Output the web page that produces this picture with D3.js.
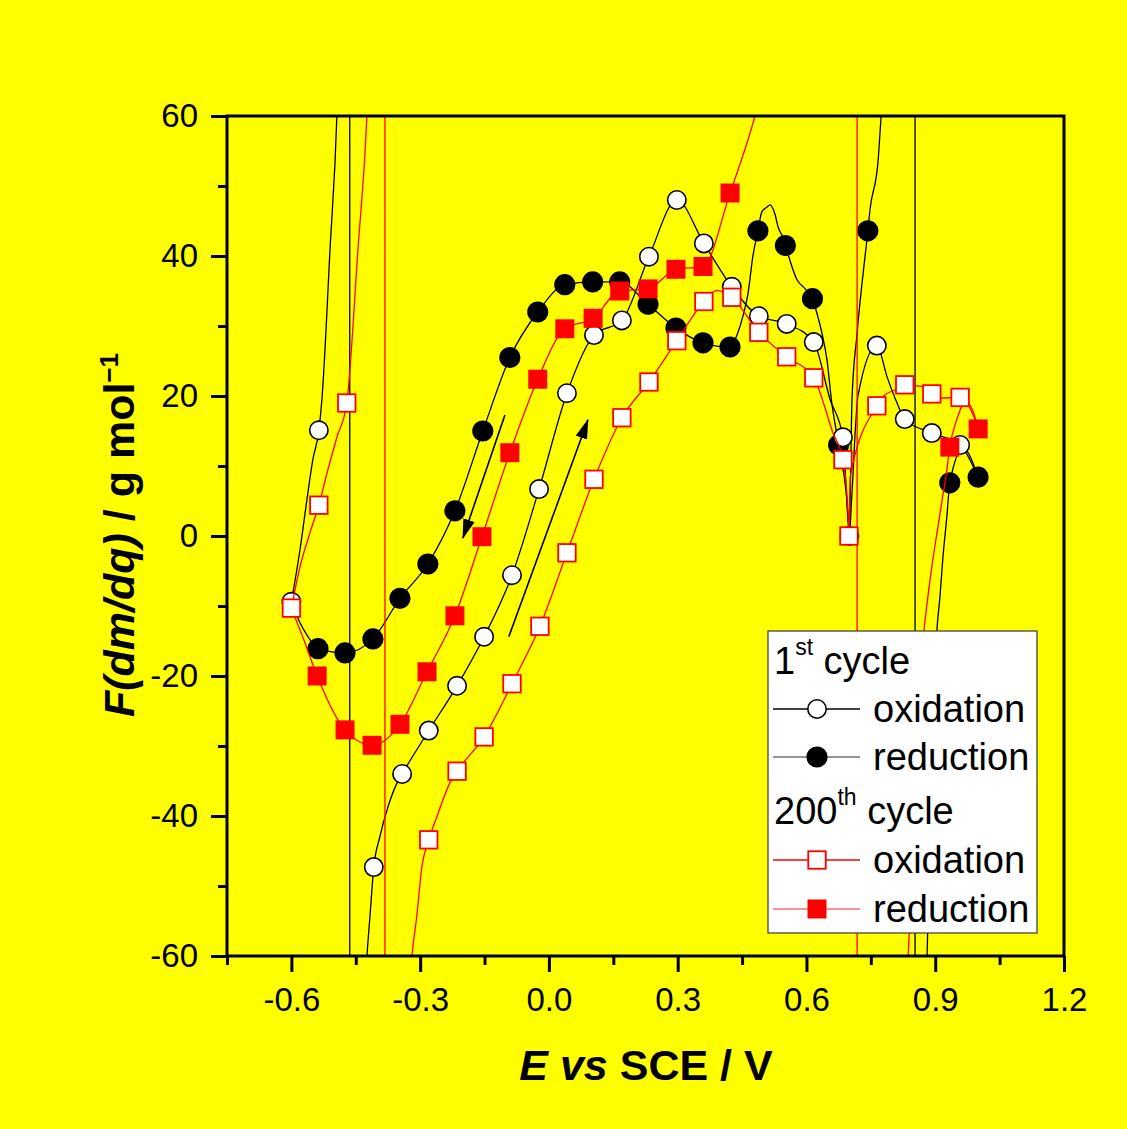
<!DOCTYPE html>
<html><head><meta charset="utf-8">
<script src="https://cdn.jsdelivr.net/npm/d3@7"></script>
<style>
html,body{margin:0;padding:0;background:#ffff00;}
svg{display:block;font-family:"Liberation Sans",Arial,Helvetica,sans-serif;}
</style></head><body>
<svg id="chart" width="1127" height="1129"></svg>
<script>
// ---- axis ticks ----
const xMajorTicks = [-0.6, -0.3, 0.0, 0.3, 0.6, 0.9, 1.2];
const xMinorTicks = [-0.75, -0.45, -0.15, 0.15, 0.45, 0.75, 1.05];
const yMajorTicks = [-60, -40, -20, 0, 20, 40, 60];
const yMinorTicks = [-50, -30, -10, 10, 30, 50];

// ---- 1st cycle, oxidation (E, F) : curve and symbols ----
const ox1Curve = [
  [-0.600,-9.4],[-0.580,-2.0],[-0.564,5.1],[-0.550,10.9],[-0.536,15.1],[-0.529,19.4],
  [-0.510,40.9],[-0.494,60],[-0.480,95],[-0.464,400],[-0.464,-400],[-0.440,-80],
  [-0.424,-60],[-0.417,-54.4],[-0.408,-47.3],[-0.394,-43.0],[-0.375,-38.7],[-0.354,-35.3],
  [-0.342,-34.0],[-0.280,-27.8],[-0.214,-21.4],[-0.151,-14.4],[-0.086,-5.6],[-0.023,6.7],
  [0.042,20.4],[0.105,28.7],[0.170,30.8],[0.233,39.9],[0.298,48.0],[0.361,41.8],
  [0.426,35.6],[0.489,31.4],[0.554,30.3],[0.617,27.7],[0.655,19.5],[0.685,14.1],
  [0.695,4.0],[0.700,0.0],[0.705,5.0],[0.720,20.0],[0.764,27.2],[0.788,22.7],
  [0.811,19.0],[0.829,16.7],[0.892,14.7],[0.958,13.0],[1.000,8.4]
];
const ox1Marks = [
  [-0.600,-9.4],[-0.536,15.1],[-0.408,-47.3],[-0.342,-34.0],[-0.280,-27.8],[-0.214,-21.4],
  [-0.151,-14.4],[-0.086,-5.6],[-0.023,6.7],[0.042,20.4],[0.105,28.7],[0.170,30.8],
  [0.233,39.9],[0.298,48.0],[0.361,41.8],[0.426,35.6],[0.489,31.4],[0.554,30.3],
  [0.617,27.7],[0.685,14.1],[0.700,0.0],[0.764,27.2],[0.829,16.7],[0.892,14.7],[0.958,13.0]
];

// ---- 1st cycle, reduction ----
const red1Curve = [
  [1.000,8.4],[0.965,12.5],[0.934,7.6],[0.927,2.7],[0.918,-3.0],[0.911,-8.7],[0.904,-13.4],
  [0.881,-60],[0.870,-90],[0.853,-400],[0.853,400],[0.830,120],[0.800,76],[0.774,60],
  [0.767,53.7],[0.748,46.6],[0.743,43.6],[0.718,29.0],[0.706,19.4],[0.700,1.0],[0.693,6.0],
  [0.675,13.0],[0.658,19.5],[0.648,25.1],[0.636,29.0],[0.624,31.9],[0.614,33.9],[0.597,35.3],
  [0.578,36.6],[0.551,41.5],[0.545,42.7],[0.534,44.1],[0.527,45.9],[0.520,47.0],[0.515,47.3],
  [0.508,47.0],[0.496,46.3],[0.487,43.6],[0.475,39.9],[0.464,34.7],[0.452,31.4],[0.440,29.0],
  [0.422,27.0],[0.359,27.6],[0.296,29.7],[0.231,33.1],[0.165,36.3],[0.102,36.3],[0.037,35.9],
  [-0.026,32.0],[-0.091,25.5],[-0.154,15.0],[-0.219,3.6],[-0.282,-4.0],[-0.347,-8.9],
  [-0.410,-14.7],[-0.475,-16.7],[-0.538,-16.1],[-0.561,-14.4],[-0.580,-12.4],[-0.600,-9.4]
];
const red1Marks = [
  [1.000,8.4],[0.934,7.6],[0.743,43.6],[0.675,13.0],[0.614,33.9],[0.551,41.5],[0.487,43.6],
  [0.422,27.0],[0.359,27.6],[0.296,29.7],[0.231,33.1],[0.165,36.3],[0.102,36.3],[0.037,35.9],
  [-0.026,32.0],[-0.091,25.5],[-0.154,15.0],[-0.219,3.6],[-0.282,-4.0],[-0.347,-8.9],
  [-0.410,-14.7],[-0.475,-16.7],[-0.538,-16.1]
];

// ---- 200th cycle, oxidation ----
const ox200Curve = [
  [-0.600,-10.3],[-0.580,-4.4],[-0.557,0.4],[-0.536,4.4],[-0.517,9.0],[-0.494,14.1],
  [-0.471,19.0],[-0.445,40.9],[-0.424,60],[-0.410,85],[-0.382,400],[-0.382,-400],
  [-0.340,-85],[-0.319,-60],[-0.308,-54.4],[-0.296,-47.3],[-0.280,-43.4],[-0.261,-40.1],
  [-0.231,-35.3],[-0.214,-33.6],[-0.151,-28.7],[-0.086,-21.1],[-0.021,-12.9],[0.042,-2.4],
  [0.105,8.1],[0.170,16.9],[0.233,22.0],[0.298,27.9],[0.361,33.5],[0.391,35.1],[0.426,34.1],
  [0.489,29.1],[0.554,25.6],[0.617,22.6],[0.662,14.7],[0.685,10.9],[0.697,3.0],[0.699,0.0],
  [0.702,8.5],[0.764,18.6],[0.778,19.9],[0.811,21.0],[0.829,21.6],[0.874,21.3],[0.892,20.3],
  [0.911,19.7],[0.958,19.8],[0.981,18.7],[0.993,16.9],[1.000,15.3]
];
const ox200Marks = [
  [-0.600,-10.3],[-0.536,4.4],[-0.471,19.0],[-0.280,-43.4],[-0.214,-33.6],[-0.151,-28.7],
  [-0.086,-21.1],[-0.021,-12.9],[0.042,-2.4],[0.105,8.1],[0.170,16.9],[0.233,22.0],
  [0.298,27.9],[0.361,33.5],[0.426,34.1],[0.489,29.1],[0.554,25.6],[0.617,22.6],
  [0.685,10.9],[0.699,0.0],[0.764,18.6],[0.829,21.6],[0.892,20.3],[0.958,19.8]
];

// ---- 200th cycle, reduction ----
const red200Curve = [
  [1.000,15.3],[0.969,19.0],[0.950,16.6],[0.934,12.7],[0.927,9.4],[0.916,5.1],[0.904,0.4],
  [0.892,-4.4],[0.881,-9.6],[0.874,-13.4],[0.837,-60],[0.800,-110],[0.718,-400],[0.718,400],
  [0.600,100],[0.520,70],[0.480,60],[0.422,49.0],[0.359,38.5],[0.296,38.1],[0.231,35.3],
  [0.165,35.0],[0.103,31.1],[0.037,29.6],[-0.026,22.4],[-0.091,11.9],[-0.156,-0.1],
  [-0.219,-11.4],[-0.284,-19.4],[-0.347,-26.9],[-0.412,-29.9],[-0.475,-27.7],[-0.540,-20.0],
  [-0.570,-15.0],[-0.600,-10.3]
];
const red200Marks = [
  [1.000,15.3],[0.934,12.7],[0.422,49.0],[0.359,38.5],[0.296,38.1],[0.231,35.3],[0.165,35.0],
  [0.103,31.1],[0.037,29.6],[-0.026,22.4],[-0.091,11.9],[-0.156,-0.1],[-0.219,-11.4],
  [-0.284,-19.4],[-0.347,-26.9],[-0.412,-29.9],[-0.475,-27.7],[-0.540,-20.0]
];

// ---- sweep-direction arrows [start, tip] ----
const arrows = [
  [[-0.1025,17.3],[-0.2004,-0.3]],
  [[-0.0935,-14.4],[0.0909,16.6]]
];

const legendItems = [
  {type:"head", main:"1", sup:"st", rest:"cycle"},
  {type:"row", label:"oxidation", series:"ox1"},
  {type:"row", label:"reduction", series:"red1"},
  {type:"head", main:"200", sup:"th", rest:"cycle"},
  {type:"row", label:"oxidation", series:"ox200"},
  {type:"row", label:"reduction", series:"red200"}
];

// ---------------- drawing ----------------
const svg = d3.select("#chart");
const W = 1127, H = 1129;
const L = 227, R = 1064, T = 116, B = 956;
const x = d3.scaleLinear().domain([-0.75, 1.2]).range([L, R]);
const y = d3.scaleLinear().domain([-60, 60]).range([B, T]);

svg.append("rect").attr("width", W).attr("height", H).attr("fill", "#ffff00");

const defs = svg.append("defs");
defs.append("clipPath").attr("id", "clip").append("rect")
  .attr("x", L).attr("y", T).attr("width", R - L).attr("height", B - T);
defs.append("marker").attr("id", "ah").attr("markerUnits", "userSpaceOnUse")
  .attr("viewBox", "0 0 20 12").attr("refX", 19).attr("refY", 6)
  .attr("markerWidth", 20).attr("markerHeight", 12).attr("orient", "auto")
  .append("path").attr("d", "M0,0 L20,6 L0,12 Z").attr("fill", "#000");

const styles = {
  ox1:   {data: ox1Curve,   marks: ox1Marks,   line: "#000", shape: "circle", fill: "#fff", stroke: "#000"},
  red1:  {data: red1Curve,  marks: red1Marks,  line: "#000", shape: "circle", fill: "#000", stroke: "#000"},
  ox200: {data: ox200Curve, marks: ox200Marks, line: "#ff0000", shape: "square", fill: "#fff", stroke: "#ff0000"},
  red200:{data: red200Curve,marks: red200Marks,line: "#ff0000", shape: "square", fill: "#ff0000", stroke: "#ff0000"}
};

const lineGen = d3.line().x(d => x(d[0])).y(d => y(d[1])).curve(d3.curveMonotoneX);
const plot = svg.append("g").attr("clip-path", "url(#clip)");

function drawSymbols(g, s, pts, cx, cy) {
  if (s.shape === "circle") {
    g.selectAll("circle.m").data(pts).join("circle").attr("class", "m")
      .attr("cx", d => cx(d)).attr("cy", d => cy(d))
      .attr("r", s.fill === "#fff" ? 9.2 : 9.8)
      .attr("fill", s.fill).attr("stroke", s.stroke).attr("stroke-width", 1.6);
  } else {
    const a = s.fill === "#fff" ? 17.5 : 19;
    g.selectAll("rect.m").data(pts).join("rect").attr("class", "m")
      .attr("x", d => cx(d) - a / 2).attr("y", d => cy(d) - a / 2)
      .attr("width", a).attr("height", a)
      .attr("fill", s.fill).attr("stroke", s.fill === "#fff" ? s.stroke : "none")
      .attr("stroke-width", 1.8);
  }
}

["red1", "ox1", "red200", "ox200"].forEach(k => {
  const s = styles[k];
  const g = plot.append("g");
  g.append("path").attr("d", lineGen(s.data)).attr("fill", "none")
    .attr("stroke", s.line).attr("stroke-width", 1.3);
  drawSymbols(g, s, s.marks, d => x(d[0]), d => y(d[1]));
});

// arrows
svg.append("g").selectAll("line").data(arrows).join("line")
  .attr("x1", d => x(d[0][0])).attr("y1", d => y(d[0][1]))
  .attr("x2", d => x(d[1][0])).attr("y2", d => y(d[1][1]))
  .attr("stroke", "#000").attr("stroke-width", 1.6).attr("marker-end", "url(#ah)");

// axes
const fmtX = d => d.toFixed(1);
const xAxis = svg.append("g").attr("transform", `translate(0,${B})`)
  .call(d3.axisBottom(x).tickValues(xMajorTicks).tickSizeInner(16).tickSizeOuter(0).tickPadding(16).tickFormat(fmtX));
const xMinor = svg.append("g").attr("transform", `translate(0,${B})`)
  .call(d3.axisBottom(x).tickValues(xMinorTicks).tickSizeInner(9).tickSizeOuter(0).tickFormat(""));
const yAxis = svg.append("g").attr("transform", `translate(${L},0)`)
  .call(d3.axisLeft(y).tickValues(yMajorTicks).tickSizeInner(16).tickSizeOuter(0).tickPadding(13).tickFormat(d => String(d)));
const yMinor = svg.append("g").attr("transform", `translate(${L},0)`)
  .call(d3.axisLeft(y).tickValues(yMinorTicks).tickSizeInner(9).tickSizeOuter(0).tickFormat(""));

[xAxis, xMinor, yAxis, yMinor].forEach(a => {
  a.select(".domain").remove();
  a.selectAll(".tick line").attr("stroke", "#000").attr("stroke-width", 3);
  a.selectAll(".tick text").attr("fill", "#000").style("font-size", "33px")
    .style("font-family", '"Liberation Sans",Arial,sans-serif');
});

// frame
svg.append("rect").attr("x", L).attr("y", T).attr("width", R - L).attr("height", B - T)
  .attr("fill", "none").attr("stroke", "#000").attr("stroke-width", 3);

// axis titles
const xt = svg.append("text").attr("x", 646).attr("y", 1080).attr("text-anchor", "middle")
  .style("font-size", "43px").style("font-weight", "bold").attr("fill", "#000");
xt.append("tspan").style("font-style", "italic").text("E");
xt.append("tspan").text(" ");
xt.append("tspan").style("font-style", "italic").text("vs");
xt.append("tspan").text(" SCE / V");

const yt = svg.append("text").attr("transform", "translate(134,535) rotate(-90)")
  .attr("text-anchor", "middle").style("font-size", "43px").style("font-weight", "bold").attr("fill", "#000");
yt.append("tspan").style("font-style", "italic").text("F(dm/dq)");
yt.append("tspan").text(" / g mol");
yt.append("tspan").attr("dy", "-16").style("font-size", "26px").text("\u22121");

// legend
const lg = svg.append("g");
lg.append("rect").attr("x", 768).attr("y", 631).attr("width", 269).attr("height", 302)
  .attr("fill", "#fff").attr("stroke", "#444").attr("stroke-width", 1.3);
const rowY = [674, 709, 757, 824, 860, 909];
const legendLineCol = {ox1: "#000", red1: "#707070", ox200: "#ff0000", red200: "#ff7070"};
legendItems.forEach((it, i) => {
  if (it.type === "head") {
    const t = lg.append("text").attr("x", 774).attr("y", rowY[i]).style("font-size", "38px").attr("fill", "#000");
    t.append("tspan").text(it.main);
    t.append("tspan").attr("dy", -19).style("font-size", "23px").text(it.sup);
    t.append("tspan").attr("dy", 19).text(" " + it.rest);
  } else {
    const s = styles[it.series];
    const cyy = rowY[i];
    lg.append("line").attr("x1", 773).attr("x2", 860).attr("y1", cyy).attr("y2", cyy)
      .attr("stroke", legendLineCol[it.series]).attr("stroke-width", 1.5);
    const gg = lg.append("g");
    drawSymbols(gg, s, [[817, cyy]], d => d[0], d => d[1]);
    lg.append("text").attr("x", 873).attr("y", cyy + 13).style("font-size", "38px")
      .attr("fill", "#000").text(it.label);
  }
});
</script>
</body></html>
